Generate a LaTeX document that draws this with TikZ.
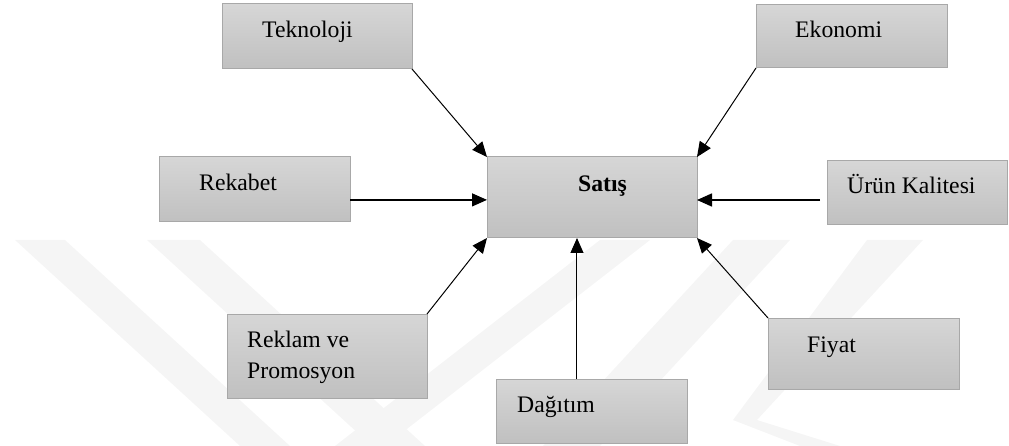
\documentclass[tikz,border=0pt]{standalone}
\usepackage{fontspec}
\setmainfont{Liberation Serif}
\usetikzlibrary{arrows.meta,calc}
\definecolor{boxtop}{RGB}{214,214,214}
\definecolor{boxbot}{RGB}{192,192,192}
\definecolor{boxline}{RGB}{168,168,168}
\definecolor{wmark}{RGB}{245,245,245}
\tikzset{
  box/.style={draw=boxline, line width=1pt, top color=boxtop, bottom color=boxbot,
    rectangle, inner sep=0pt, outer sep=0pt, anchor=north west},
  lbl/.style={anchor=base west, inner sep=0pt, font=\fontsize{23.7}{31}\selectfont},
  arr/.style={draw=black, line width=1pt, -{Triangle[length=15pt,width=13pt]}},
  wm/.style={fill=wmark, draw=none}
}
\begin{document}
\begin{tikzpicture}[x=1pt,y=-1pt]
\useasboundingbox (0,0) rectangle (1009,446);
% watermark
\fill[wm] (15,240) -- (65,240) -- (290,446) -- (240,446) -- cycle;
\fill[wm] (147,240) -- (200,240) -- (425,446) -- (372,446) -- cycle;
\fill[wm] (335,446) -- (385,446) -- (650,240) -- (600,240) -- cycle;
\fill[wm] (543,446) -- (600,446) -- (790,240) -- (733,240) -- cycle;
\fill[wm] (733,420) -- (757,420) -- (923,240) -- (867,240) -- cycle;
\fill[wm] (733,420) -- (757,420) -- (840,446) -- (800,446) -- cycle;
% boxes
\node[box, minimum width=190pt, minimum height=65pt] (tek) at (222,4) {};
\node[box, minimum width=191pt, minimum height=63pt] (eko) at (756,5) {};
\node[box, minimum width=210pt, minimum height=81pt] (sat) at (487,157) {};
\node[box, minimum width=191pt, minimum height=65pt] (rek) at (159,157) {};
\node[box, minimum width=180pt, minimum height=64pt] (urn) at (827,161) {};
\node[box, minimum width=200pt, minimum height=84pt] (rkl) at (227,314) {};
\node[box, minimum width=191pt, minimum height=64pt] (dag) at (496,379) {};
\node[box, minimum width=191pt, minimum height=71pt] (fiy) at (768,318) {};
% labels
\node[lbl] (tekt) at (262,38) {Teknoloji};
\node[lbl] (ekot) at (795,38) {Ekonomi};
\node[lbl, font=\fontsize{23.7}{31}\selectfont\bfseries] (satt) at (578,192) {Satış};
\node[lbl] (rekt) at (199,191) {Rekabet};
\node[lbl] (urnt) at (847,194) {Ürün Kalitesi};
\node[lbl] (rklt1) at (247,347) {Reklam ve};
\node[lbl] (rklt2) at (247,378) {Promosyon};
\node[lbl] (dagt) at (517,412) {Dağıtım};
\node[lbl] (fiyt) at (807,352) {Fiyat};
% connectors
\draw[arr] (tek.south east) -- (sat.north west);
\draw[arr] (eko.south west) -- (sat.north east);
\coordinate (rekstart) at ($(rek.north east)!0.66!(rek.south east)$);
\draw[arr, line width=1.3pt] (rekstart) -- (sat.west |- rekstart);
\coordinate (urnstart) at (820,200);
\draw[arr, line width=1.6pt] (urnstart) -- (sat.east |- urnstart);
\draw[arr] (rkl.north east) -- (sat.south west);
\coordinate (dagstart) at ($(dag.north west)!0.424!(dag.north east)$);
\draw[arr] (dagstart) -- (sat.south -| dagstart);
\draw[arr] (fiy.north west) -- (sat.south east);
\end{tikzpicture}
\end{document}
